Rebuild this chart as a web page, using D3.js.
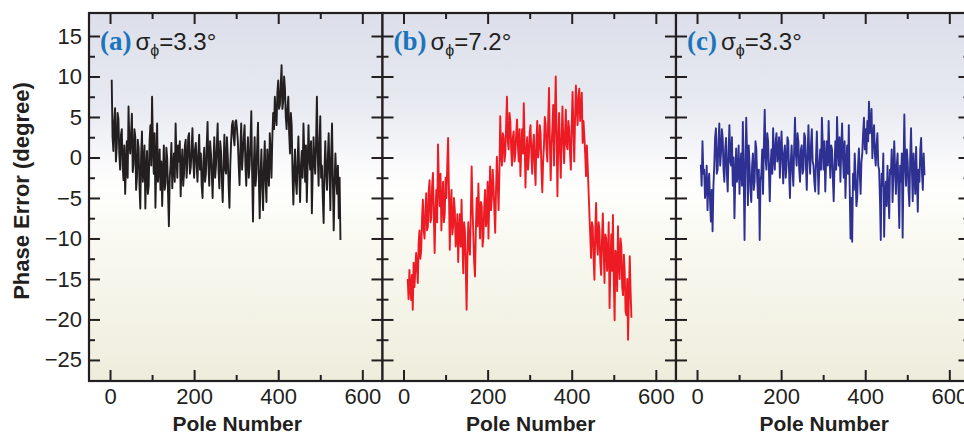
<!DOCTYPE html>
<html>
<head>
<meta charset="utf-8">
<script src="https://cdn.jsdelivr.net/npm/d3@7"></script>
<style>
  html, body { margin: 0; padding: 0; background: #fff; }
  svg { display: block; }
</style>
</head>
<body>
<div id="chart"></div>
<script>
// Panel labels and sigma values
const panelTags = ["(a)", "(b)", "(c)"];
const sigmaValues = ["3.3", "7.2", "3.3"];

// Axis ticks
const xMajor = [0, 200, 400, 600];
const xMinor = [100, 300, 500];
const yMajor = [-25, -20, -15, -10, -5, 0, 5, 10, 15];
const yMinor = [-22.5, -17.5, -12.5, -7.5, -2.5, 2.5, 7.5, 12.5];

// Phase error (degree), one value every 2 poles
const poleStep = 2;
const startA = 4;
const errA = [
  9.6, 2.5, 0.8, 4.5, 6.1, -0.5, 1.2, 5.5, 4.8, 0.5, -1.5, 2.8, 3.5, -1.0, -2.8, 1.5, -4.5, -0.8, 2.0, -2.5,
  6.3, 1.8, 0.5, 3.0, 5.4, -1.8, -0.8, 3.5, 2.6, -4.0, -2.5, 2.2, 1.2, -3.5, -6.3, 0.5, 3.2, -3.0, -1.0, 1.5,
  -6.3, -1.5, 0.8, -4.5, -3.5, 2.0, 4.0, -1.0, 7.5, 1.5, -2.0, 3.0, -6.2, -1.0, 4.2, -3.0, -1.5, 1.0, -4.0, -0.5,
  -6.0, -2.0, 1.5, -4.0, -3.2, 1.2, -0.1, -4.5, -8.5, -2.5, -1.0, 1.8, -3.8, -1.0, 0.5, -3.0, 4.2, 0.0, -2.5, 1.5,
  -0.5, 2.0, -4.8, -1.0, 1.0, -3.5, -2.0, 1.5, 2.2, -2.5, -0.8, 2.5, 3.0, -2.0, -1.2, 1.0, 3.6, -0.5, -2.5, 1.0,
  1.8, -1.0, -3.0, 0.5, 2.8, -1.5, 0.5, -3.5, -5.0, -0.5, 1.2, -3.0, -2.0, 1.5, 4.4, -1.0, -3.5, 2.0, 0.5, -2.0,
  -5.0, -0.5, 2.5, -2.5, -1.0, 1.5, 4.2, -1.5, -3.8, 2.0, 0.8, -3.0, -5.5, -1.0, 2.8, -1.5, -2.0, 2.5, 0.2, -3.5,
  -6.2, -1.0, 2.0, 4.0, 4.5, 2.5, 1.5, 4.4, 4.6, 3.5, 2.0, -1.0, -3.4, 1.0, 4.2, -1.5, 0.5, 2.5, 4.0, -1.0,
  -3.5, 0.5, 2.5, -2.5, -1.0, 2.0, 5.7, -2.0, -7.9, -1.0, 2.5, -3.5, -2.0, 1.5, 4.3, -3.0, -7.5, -2.0, 1.0, -3.5,
  -6.5, -1.0, 2.0, -3.0, -5.5, 1.0, -1.1, -3.5, 3.0, 0.5, -2.5, 2.5, 5.5, 3.5, 7.5, 5.0, 4.0, 8.0, 9.5, 6.0,
  6.5, 9.0, 11.4, 6.0, 7.0, 10.0, 8.5, 5.0, 3.5, 6.0, 7.5, 3.0, 0.5, 5.5, 4.0, -2.0, -5.8, -1.5, 1.0, -3.0,
  -4.5, -0.5, 2.6, -2.0, -5.5, -1.0, 0.8, -2.5, 4.2, 0.5, -3.0, 1.5, -5.5, -1.0, 4.0, 0.0, -1.5, 2.0, -6.9, -2.0,
  2.5, -0.5, -2.0, 2.0, 7.5, 0.5, -3.5, 1.5, 5.1, -2.5, -1.0, -5.0, -8.1, -1.5, 2.0, -2.0, -4.0, 0.0, 3.0, -2.0,
  -6.5, 0.5, 4.2, -3.0, -9.0, -3.5, 0.5, -2.5, -4.5, -1.0, -7.5, -2.5, -10.2
];
const startB = 10;
const errB = [
  -15.0, -17.5, -13.9, -16.0, -17.6, -14.5, -18.8, -13.0, -16.0, -14.0, -11.8, -13.5, -15.5, -10.5, -9.0, -12.5, -11.5, -7.5, -5.2, -9.0,
  -10.0, -6.5, -4.4, -9.0, -8.5, -4.0, -2.8, -8.0, -7.5, -3.5, -1.9, -7.0, -11.8, -6.5, -4.0, -8.0, 1.6, -3.0, -6.0, -2.0,
  -9.0, -5.5, -3.0, -8.0, -7.0, -2.5, -5.0, -1.0, 2.4, -4.0, -11.4, -6.0, -4.0, -9.5, -8.5, -5.0, -6.5, -11.0, -10.0, -7.0,
  -12.9, -9.0, -7.0, -11.0, -5.2, -10.0, -14.3, -8.0, -9.0, -13.5, -18.8, -12.0, -8.0, -11.0, -12.0, -7.0, -1.1, -6.0, -9.5, -13.0,
  -14.7, -9.0, -5.0, -8.5, -3.2, -7.0, -10.0, -5.5, -6.0, -11.0, -9.8, -6.0, -4.0, -8.5, -7.5, -3.0, -10.0, -5.0, -1.1, -6.5,
  -5.0, -1.5, -3.5, -6.5, -9.3, -4.0, 0.1, -3.0, -6.5, -2.0, 5.1, 0.5, -1.0, 3.0, 2.5, -0.5, 0.5, 4.0, 7.5, 2.0,
  1.0, 5.5, 4.5, 1.0, -1.0, 2.5, 3.2, -0.5, 0.6, 3.0, 4.7, 1.5, -0.5, 3.5, -2.3, 1.0, 3.5, 0.5, 6.7, 2.0,
  -3.7, 0.5, 2.5, -1.5, 0.0, 3.0, 4.0, 0.5, -2.0, 1.5, 2.8, -1.0, -3.4, 2.0, 4.5, 0.0, 1.0, 4.0, 3.0, -1.5,
  -4.3, -0.5, 1.5, 5.0, 4.0, 1.0, -0.5, 4.5, 8.6, 2.0, -2.8, 1.5, 3.5, 6.5, -1.0, 5.0, 10.0, 3.0, -4.8, 2.0,
  5.5, 1.0, -2.5, 2.5, 6.3, 2.0, -0.7, 3.0, 5.9, 1.5, 1.0, 4.5, 3.5, 0.5, -1.5, 4.0, 8.1, 3.5, -0.5, 5.0,
  8.9, 6.0, 4.0, 7.5, 8.5, 4.5, 6.0, 8.0, 1.8, 4.5, 2.6, 0.5, -2.3, 1.5, -1.1, -4.0, -6.9, -9.5, -12.4, -8.0,
  -8.5, -12.5, -15.1, -9.0, -5.6, -10.5, -12.0, -8.0, -9.0, -13.0, -14.5, -10.0, -6.9, -11.5, -15.5, -9.5, -10.0, -14.0, -12.5, -8.0,
  -18.6, -13.5, -9.5, -14.0, -7.1, -15.0, -20.1, -11.5, -12.0, -16.5, -8.5, -13.0, -15.0, -10.0, -11.0, -16.0, -17.0, -12.0, -14.0, -19.0,
  -19.5, -15.0, -22.5, -17.0, -12.2, -16.5, -19.8
];
const startC = 9;
const errC = [
  -0.9, -3.5, 2.0, -2.0, -1.5, -5.0, -4.0, -1.0, -6.5, -3.0, -2.0, -5.5, -7.9, -4.0, -9.1, -3.5, -1.0, 2.5, 3.6, -2.0,
  -1.5, 2.0, 4.2, -1.0, 0.5, 3.5, 2.5, -1.5, -3.0, 1.0, 2.4, -2.0, -4.2, 0.5, 4.0, -0.5, -1.0, 2.5, -3.5, 0.0,
  -7.5, -2.5, 1.1, -3.0, -2.0, 1.5, -4.5, -1.0, 0.5, -3.5, 4.4, -2.0, -10.2, -1.0, 4.9, 0.5, -5.9, 1.5, -1.0, -4.0,
  -5.5, -1.0, 0.5, -4.0, -3.0, 2.0, 1.1, -2.5, -5.0, -1.5, -10.2, -3.0, -2.0, 1.0, -4.5, 1.5, 5.9, 0.0, -1.5, 3.0,
  2.0, -1.5, -5.4, -1.0, 1.0, -2.0, 3.6, 0.0, -1.5, 2.0, 3.0, -0.5, 0.5, 2.5, -2.5, 1.0, 3.2, -0.5, -3.2, 0.5,
  1.5, -2.5, -1.0, 2.5, 2.0, -2.0, -5.0, -0.5, 1.5, -1.5, -3.5, 1.0, 4.9, 0.5, -1.0, 3.0, 2.0, -1.5, -3.0, 1.0,
  1.5, -2.0, -1.5, 3.0, 2.5, -1.0, -4.0, 0.5, 4.0, 0.0, -2.0, 1.5, 3.5, -0.5, -1.0, -3.0, -4.2, 0.0, 3.2, -1.0,
  -4.5, -1.0, 1.0, -1.5, 4.9, 1.5, -1.5, 2.0, -4.2, -0.5, 2.0, -1.0, 4.5, 0.5, -2.5, 1.5, 1.0, -2.5, -5.4, -1.0,
  2.0, -1.5, 5.0, 1.0, -1.0, 2.5, -3.0, 1.0, 4.2, 0.0, -2.5, 2.0, -5.0, -1.0, 1.5, -2.0, 4.0, -3.5, -10.0, -5.0,
  -10.4, -2.0, -4.0, 0.5, -2.0, -6.0, -5.0, -1.0, 1.1, -2.0, -4.5, -0.5, 0.5, 3.0, 4.9, 1.0, 3.5, 0.5, 4.5, 2.0,
  6.9, 3.0, 4.0, 6.0, -0.1, 2.5, 4.0, 0.5, -1.0, 1.5, 3.0, -1.0, -1.5, -5.0, -10.2, -2.0, -3.5, 0.5, -9.8, -4.5,
  -3.0, -6.0, -1.0, -4.0, -7.5, -1.5, -2.0, 1.0, -5.5, -2.0, 2.0, -1.5, -4.5, -1.0, 0.5, -4.0, -8.7, -1.0, -3.0, 0.5,
  -9.9, -1.5, 5.3, -1.0, -3.5, 1.0, -0.5, -4.0, -6.0, 0.0, 3.6, -1.5, -5.4, 0.5, -2.0, -4.5, 1.3, -2.5, -6.7, -1.5,
  -3.0, 1.0, 2.4, -2.0, -4.0, 0.5, -2.2
];

const lineColors = ["#231f20", "#ed1c24", "#2e3192"];

// Layout
const width = 964;
const height = 436;
const plotTop = 13;
const plotH = 368;
const panelW = 293.5;
const panelLefts = [89, 382.5, 676];

const svg = d3.select("#chart").append("svg")
  .attr("width", width)
  .attr("height", height);

// Background gradient of each plot
const grad = svg.append("defs").append("linearGradient")
  .attr("id", "bg").attr("x1", 0).attr("y1", 0).attr("x2", 0).attr("y2", 1);
[[0, "#dcdfea"], [0.25, "#e8eaf1"], [0.43, "#fbfbfc"], [0.48, "#fefefc"],
 [0.62, "#f9f9f2"], [1, "#eeeddc"]].forEach(([o, c]) =>
  grad.append("stop").attr("offset", o).attr("stop-color", c));

const x = d3.scaleLinear().domain([-50, 648]).range([0, panelW]);
const y = d3.scaleLinear().domain([-27.6, 17.84]).range([plotH, 0]);

const series = [
  errA.map((v, i) => ({ pole: startA + i * poleStep, err: v })),
  errB.map((v, i) => ({ pole: startB + i * poleStep, err: v })),
  errC.map((v, i) => ({ pole: startC + i * poleStep, err: v }))
];

const line = d3.line().x(d => x(d.pole)).y(d => y(d.err));

const tickFont = "'Liberation Sans', Arial, sans-serif";

series.forEach((data, i) => {
  const g = svg.append("g").attr("transform", `translate(${panelLefts[i]},${plotTop})`);

  g.append("rect")
    .attr("width", panelW).attr("height", plotH)
    .attr("fill", "url(#bg)");

  g.append("path")
    .datum(data)
    .attr("fill", "none")
    .attr("stroke", lineColors[i])
    .attr("stroke-width", 1.9)
    .attr("stroke-linejoin", "round")
    .attr("d", line);

  // ticks, all pointing inward
  const axes = [
    [d3.axisLeft(y).tickValues(yMajor).tickSize(-11).tickPadding(7), 0, 0, i === 0],
    [d3.axisLeft(y).tickValues(yMinor).tickSize(-6), 0, 0, false],
    [d3.axisRight(y).tickValues(yMajor).tickSize(-11), panelW, 0, false],
    [d3.axisRight(y).tickValues(yMinor).tickSize(-6), panelW, 0, false],
    [d3.axisBottom(x).tickValues(xMajor).tickSize(-11).tickPadding(7), 0, plotH, true],
    [d3.axisBottom(x).tickValues(xMinor).tickSize(-6), 0, plotH, false],
    [d3.axisTop(x).tickValues(xMajor).tickSize(-11), 0, 0, false],
    [d3.axisTop(x).tickValues(xMinor).tickSize(-6), 0, 0, false]
  ];
  axes.forEach(([ax, tx, ty, labels]) => {
    if (!labels) ax.tickFormat("");
    else ax.tickFormat(d => d < 0 ? "\u2212" + Math.abs(d) : d);
    const a = g.append("g")
      .attr("transform", `translate(${tx},${ty})`)
      .call(ax);
    a.select(".domain").remove();
    a.selectAll(".tick line").attr("stroke", "#231f20").attr("stroke-width", 2);
    a.selectAll(".tick text")
      .attr("fill", "#231f20")
      .style("font-family", tickFont)
      .style("font-size", "22px");
  });

  g.append("rect")
    .attr("width", panelW).attr("height", plotH)
    .attr("fill", "none")
    .attr("stroke", "#231f20")
    .attr("stroke-width", 2.2);

  // panel label
  const lab = g.append("text")
    .attr("x", 11).attr("y", 37)
    .attr("fill", "#231f20")
    .style("font-family", tickFont)
    .style("font-size", "24px");
  lab.append("tspan")
    .attr("fill", "#1c75bc")
    .style("font-family", "'Liberation Serif', 'Times New Roman', serif")
    .style("font-weight", "bold")
    .style("font-size", "27px")
    .text(panelTags[i]);
  lab.append("tspan").attr("dx", 4).text("\u03c3");
  lab.append("tspan").attr("dy", 6).style("font-size", "16px").text("\u03d5");
  lab.append("tspan").attr("dy", -6).text("=" + sigmaValues[i] + "\u00b0");

  // x axis title
  g.append("text")
    .attr("x", x(300) + 1).attr("y", plotH + 50)
    .attr("text-anchor", "middle")
    .attr("fill", "#231f20")
    .style("font-family", tickFont)
    .style("font-weight", "bold")
    .style("font-size", "21px")
    .text("Pole Number");
});

svg.append("text")
  .attr("transform", `translate(29,${plotTop + plotH / 2 - 6}) rotate(-90)`)
  .attr("text-anchor", "middle")
  .attr("fill", "#231f20")
  .style("font-family", tickFont)
  .style("font-weight", "bold")
  .style("font-size", "22px")
  .text("Phase Error (degree)");
</script>
</body>
</html>
